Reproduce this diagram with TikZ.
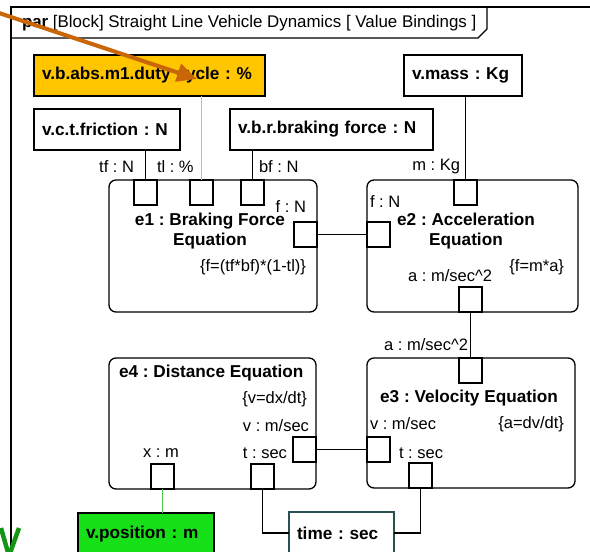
\documentclass[tikz,border=0pt]{standalone}
\usepackage{fontspec}
\setmainfont{Liberation Sans}
\usetikzlibrary{arrows.meta}
\frenchspacing
\definecolor{dutyfill}{RGB}{255,198,0}
\definecolor{posfill}{RGB}{24,224,24}
\definecolor{bindyellow}{RGB}{228,196,40}
\definecolor{bindgreen}{RGB}{80,200,80}
\definecolor{timeedge}{RGB}{40,80,80}
\definecolor{callout}{RGB}{200,102,8}
\definecolor{markgreen}{RGB}{20,150,20}
\begin{document}
\begin{tikzpicture}[x=1pt,y=-1pt,line width=1.3pt,
  every node/.style={inner sep=0pt,outer sep=0pt},
  lbl/.style={font=\fontsize{16.5}{18}\selectfont},
  blbl/.style={font=\fontsize{17.2}{20}\bfseries\selectfont},
  valbox/.style={draw,anchor=north west,inner xsep=8pt,align=left,
    font=\fontsize{17.2}{20}\bfseries\selectfont},
  block/.style={draw,rounded corners=7pt,anchor=north west},
  port/.style={draw,fill=white,anchor=north west,minimum width=23pt,minimum height=25pt},
  link/.style={line width=1.3pt},
]
\useasboundingbox (0,0) rectangle (590,552);

% diagram frame with its header tab
\draw (11,560) -- (11,7) -- (600,7);
\draw (11,38) -- (478,38) -- (487,29) -- (487,7);
\node[anchor=west,font=\fontsize{16.9}{19}\selectfont] (hdr) at (22,23)
  {\textbf{par} [Block] Straight Line Vehicle Dynamics [ Value Bindings ]};

% value properties
\node[valbox,fill=dutyfill,text width=215pt,minimum height=41pt] (duty) at (34,55) {v.b.abs.m1.duty cycle : \%};
\node[valbox,fill=white,text width=130pt,minimum height=41pt] (fric) at (34,109) {v.c.t.friction : N};
\node[valbox,fill=white,text width=187pt,minimum height=41pt] (brake) at (230,109) {v.b.r.braking force : N};
\node[valbox,fill=white,text width=102pt,minimum height=41pt] (mass) at (404,55) {v.mass : Kg};
\node[valbox,fill=posfill,text width=120pt,minimum height=42pt] (pos) at (78,513) {v.position : m};
\node[valbox,draw=timeedge,fill=white,text width=89pt,minimum height=42pt] (time) at (289,512) {time : sec};

% constraint blocks
\node[block,minimum width=208pt,minimum height=132pt] (e1) at (109,180) {};
\node[block,minimum width=211pt,minimum height=132pt] (e2) at (367,180) {};
\node[block,minimum width=207pt,minimum height=131pt] (e4) at (109,358) {};
\node[block,minimum width=208pt,minimum height=130pt] (e3) at (367,358) {};

% block titles and constraints
\node[blbl,align=center] (e1t) at (210,231) {e1 : Braking Force\\Equation};
\node[lbl,anchor=east] (e1c) at (306,267) {\{f=(tf*bf)*(1-tl)\}};
\node[blbl,align=center] (e2t) at (466,231) {e2 : Acceleration\\Equation};
\node[lbl,anchor=east] (e2c) at (564,267) {\{f=m*a\}};
\node[blbl,anchor=west] (e4t) at (119,373) {e4 : Distance Equation};
\node[lbl,anchor=east] (e4c) at (307,399) {\{v=dx/dt\}};
\node[blbl] (e3t) at (469,398) {e3 : Velocity Equation};
\node[lbl,anchor=east] (e3c) at (564,424) {\{a=dv/dt\}};

% constraint parameters
\node[port] (tf) at (134,180) {};
\node[port] (tl) at (190,180) {};
\node[port] (bf) at (241,180) {};
\node[port] (f1) at (294,222) {};
\node[port] (f2) at (367,222) {};
\node[port] (m) at (454,180) {};
\node[port] (a2) at (459,287) {};
\node[port] (a3) at (459,358) {};
\node[port] (v3) at (367,437) {};
\node[port] (t3) at (409,463) {};
\node[port] (v4) at (293,437) {};
\node[port] (x4) at (151,464) {};
\node[port] (t4) at (251,464) {};

% parameter names
\node[lbl,anchor=east] (tfl) at (134,167) {tf : N};
\node[lbl,anchor=west] (tll) at (157,167) {tl : \%};
\node[lbl,anchor=west] (bfl) at (259,167) {bf : N};
\node[lbl,anchor=east] (ml) at (460,167) {m : Kg};
\node[lbl,anchor=east] (f1l) at (306,207) {f : N};
\node[lbl,anchor=west] (f2l) at (370,202) {f : N};
\node[lbl,anchor=east] (a2l) at (492,276) {a : m/sec\textasciicircum2};
\node[lbl,anchor=east] (a3l) at (468,345) {a : m/sec\textasciicircum2};
\node[lbl,anchor=west] (v3l) at (370,424) {v : m/sec};
\node[lbl,anchor=west] (t3l) at (399,453) {t : sec};
\node[lbl,anchor=east] (v4l) at (309,426) {v : m/sec};
\node[lbl,anchor=east] (t4l) at (287,453) {t : sec};
\node[lbl] (x4l) at (161,453) {x : m};

% binding connectors
\draw[link] (tf.north |- fric.south) -- (tf.north);
\draw[link,bindyellow] (tl.north |- duty.south) -- (tl.north);
\draw[link] (bf.north |- brake.south) -- (bf.north);
\draw[link] (m.north |- mass.south) -- (m.north);
\draw[link] (f1.east) -- (f2.west);
\draw[link] (a2.south) -- (a3.north);
\draw[link] (v4.east) -- (v3.west);
\draw[link,bindgreen] (x4.south) -- (x4.south |- pos.north);
\draw[link] (t4.south) |- (time.west);
\draw[link] (t3.south) |- (time.east);

% annotation marks
\coordinate (calloutStart) at (-10,10);
\coordinate (calloutTip) at (197,79);
\draw[callout,line width=4pt,-{Triangle[length=20pt,width=18pt]}] (calloutStart) -- (calloutTip);
\draw[markgreen,line width=4.5pt] (1,528) -- (9,556);
\draw[markgreen,line width=4.5pt] (19,528) -- (9,556);
\end{tikzpicture}
\end{document}
